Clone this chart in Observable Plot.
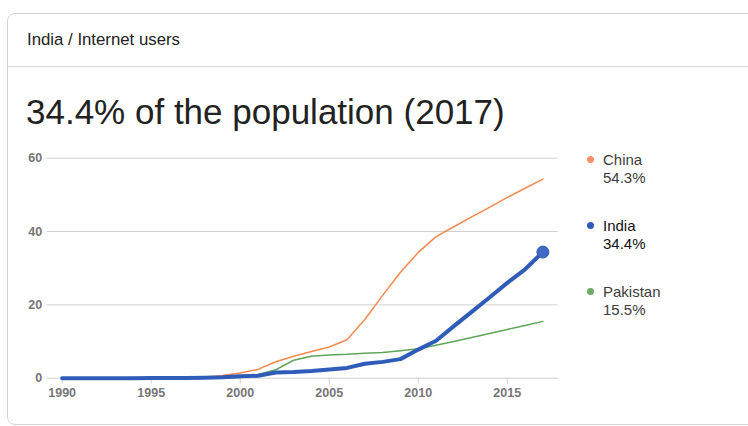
<!DOCTYPE html>
<html>
<head>
<meta charset="utf-8">
<script src="https://cdn.jsdelivr.net/npm/d3@7"></script>
<script src="https://cdn.jsdelivr.net/npm/@observablehq/plot@0.6"></script>
<style>
  html, body { margin: 0; padding: 0; background: #fff; }
  body { width: 748px; height: 426px; overflow: hidden; position: relative;
         font-family: "Liberation Sans", Arial, sans-serif; }
  #card { position: absolute; left: 7px; top: 13px; width: 820px; height: 410px;
          border: 1px solid #d4d4d4; border-radius: 8px; }
  #sep { position: absolute; left: 8px; top: 66px; width: 760px; border-top: 1px solid #dadada; }
  #head { position: absolute; left: 27px; top: 32px; font-size: 16.8px; line-height: 16.8px; color: #222; white-space: nowrap; }
  #title { position: absolute; left: 26px; top: 93.7px; font-size: 35px; line-height: 35px; color: #222; white-space: nowrap; }
  #chart { position: absolute; left: 0; top: 140px; }
  #chart svg text { font-size: 12.5px !important; font-weight: bold !important; font-family: "Liberation Sans", Arial, sans-serif !important; }
  .lg { position: absolute; font-size: 15px; line-height: 15px; color: #3c3c3c; white-space: nowrap; }
  .dot { position: absolute; width: 7px; height: 7px; border-radius: 50%; }
</style>
</head>
<body>
<div id="card"></div>
<div id="sep"></div>
<div id="head">India / Internet users</div>
<div id="title">34.4% of the population (2017)</div>
<div id="chart"></div>
<div id="legend"></div>
<script>
// ---- data ----
const years = [1990, 1991, 1992, 1993, 1994, 1995, 1996, 1997, 1998, 1999,
               2000, 2001, 2002, 2003, 2004, 2005, 2006, 2007, 2008, 2009,
               2010, 2011, 2012, 2013, 2014, 2015, 2016, 2017];
const china = [0, 0, 0, 0.0002, 0.001, 0.005, 0.01, 0.03, 0.17, 0.71,
               1.4, 2.4, 4.5, 6.0, 7.3, 8.5, 10.5, 16.0, 22.6, 28.9,
               34.3, 38.6, 41.3, 44.0, 46.6, 49.3, 51.8, 54.3];
const india = [0, 0, 0, 0, 0, 0.03, 0.05, 0.07, 0.14, 0.27,
               0.53, 0.66, 1.54, 1.69, 1.98, 2.39, 2.81, 3.95, 4.45, 5.2,
               7.8, 10.2, 14.2, 18.1, 22.0, 26.0, 29.7, 34.4];
const pakistan = [0, 0, 0, 0, 0, 0, 0, 0.003, 0.02, 0.05,
                  0.21, 1.0, 2.3, 4.9, 6.0, 6.33, 6.5, 6.8, 7.0, 7.5,
                  8.0, 9.0, 10.0, 11.1, 12.2, 13.3, 14.4, 15.5];
const countries = ["China", "India", "Pakistan"];
const colors = ["#f7894f", "#2f5cb8", "#5fa55a"];
const dotColors = ["#f8926a", "#2f5cb8", "#6aab66"];
const xTicks = [1990, 1995, 2000, 2005, 2010, 2015];
const yTicks = [0, 20, 40, 60];

const series = {China: china, India: india, Pakistan: pakistan};
const rows = [];
for (const c of countries) series[c].forEach((v, i) => rows.push({country: c, year: years[i], value: v}));
const last = countries.map(c => ({country: c, year: years[years.length - 1], value: series[c][series[c].length - 1]}));

const chart = Plot.plot({
  width: 748,
  height: 270,
  marginTop: 17.7,
  marginBottom: 32.3,
  marginLeft: 46.7,
  marginRight: 190.3,
  style: {fontFamily: '"Liberation Sans", Arial, sans-serif', fontSize: "12.5px", fontWeight: "bold", color: "#777", background: "transparent"},
  x: {domain: [1989.16, 2017.86]},
  y: {domain: [0, 60]},
  marks: [
    Plot.ruleY(yTicks, {stroke: "#d0d0d0", strokeWidth: 1}),
    Plot.axisY(yTicks, {tickSize: 0, tickPadding: 5, label: null, fill: "#767676"}),
    Plot.axisX(xTicks, {tickSize: 6, tickPadding: 3.5, label: null, tickFormat: d => String(d), stroke: "#cfcfcf", fill: "#767676"}),
    Plot.line(rows.filter(d => d.country === "Pakistan"), {x: "year", y: "value", stroke: colors[2], strokeWidth: 1.5}),
    Plot.line(rows.filter(d => d.country === "China"), {x: "year", y: "value", stroke: colors[0], strokeWidth: 1.5}),
    Plot.line(rows.filter(d => d.country === "India"), {x: "year", y: "value", stroke: colors[1], strokeWidth: 4, strokeLinejoin: "round", strokeLinecap: "round"}),
    Plot.dot(last.filter(d => d.country === "India"), {x: "year", y: "value", r: 6, fill: "#4169c4", stroke: "#2f5cb8", strokeWidth: 1})
  ]
});
document.getElementById("chart").appendChild(chart);

// legend
const legend = document.getElementById("legend");
const rowTops = [151.7, 217.7, 283.7];
countries.forEach((c, i) => {
  const d = document.createElement("div");
  d.className = "dot";
  d.style.left = "587px";
  d.style.top = (rowTops[i] + 7.3 - 3.5) + "px";
  d.style.background = dotColors[i];
  legend.appendChild(d);
  const t1 = document.createElement("div");
  t1.className = "lg";
  t1.style.left = "603px";
  t1.style.top = rowTops[i] + "px";
  t1.textContent = c;
  if (c === "India") t1.style.color = "#111";
  legend.appendChild(t1);
  const t2 = document.createElement("div");
  t2.className = "lg";
  t2.style.left = "603px";
  t2.style.top = (rowTops[i] + 18.3) + "px";
  t2.textContent = last[i].value.toFixed(1) + "%";
  if (c === "India") t2.style.color = "#111";
  legend.appendChild(t2);
});
</script>
</body>
</html>
